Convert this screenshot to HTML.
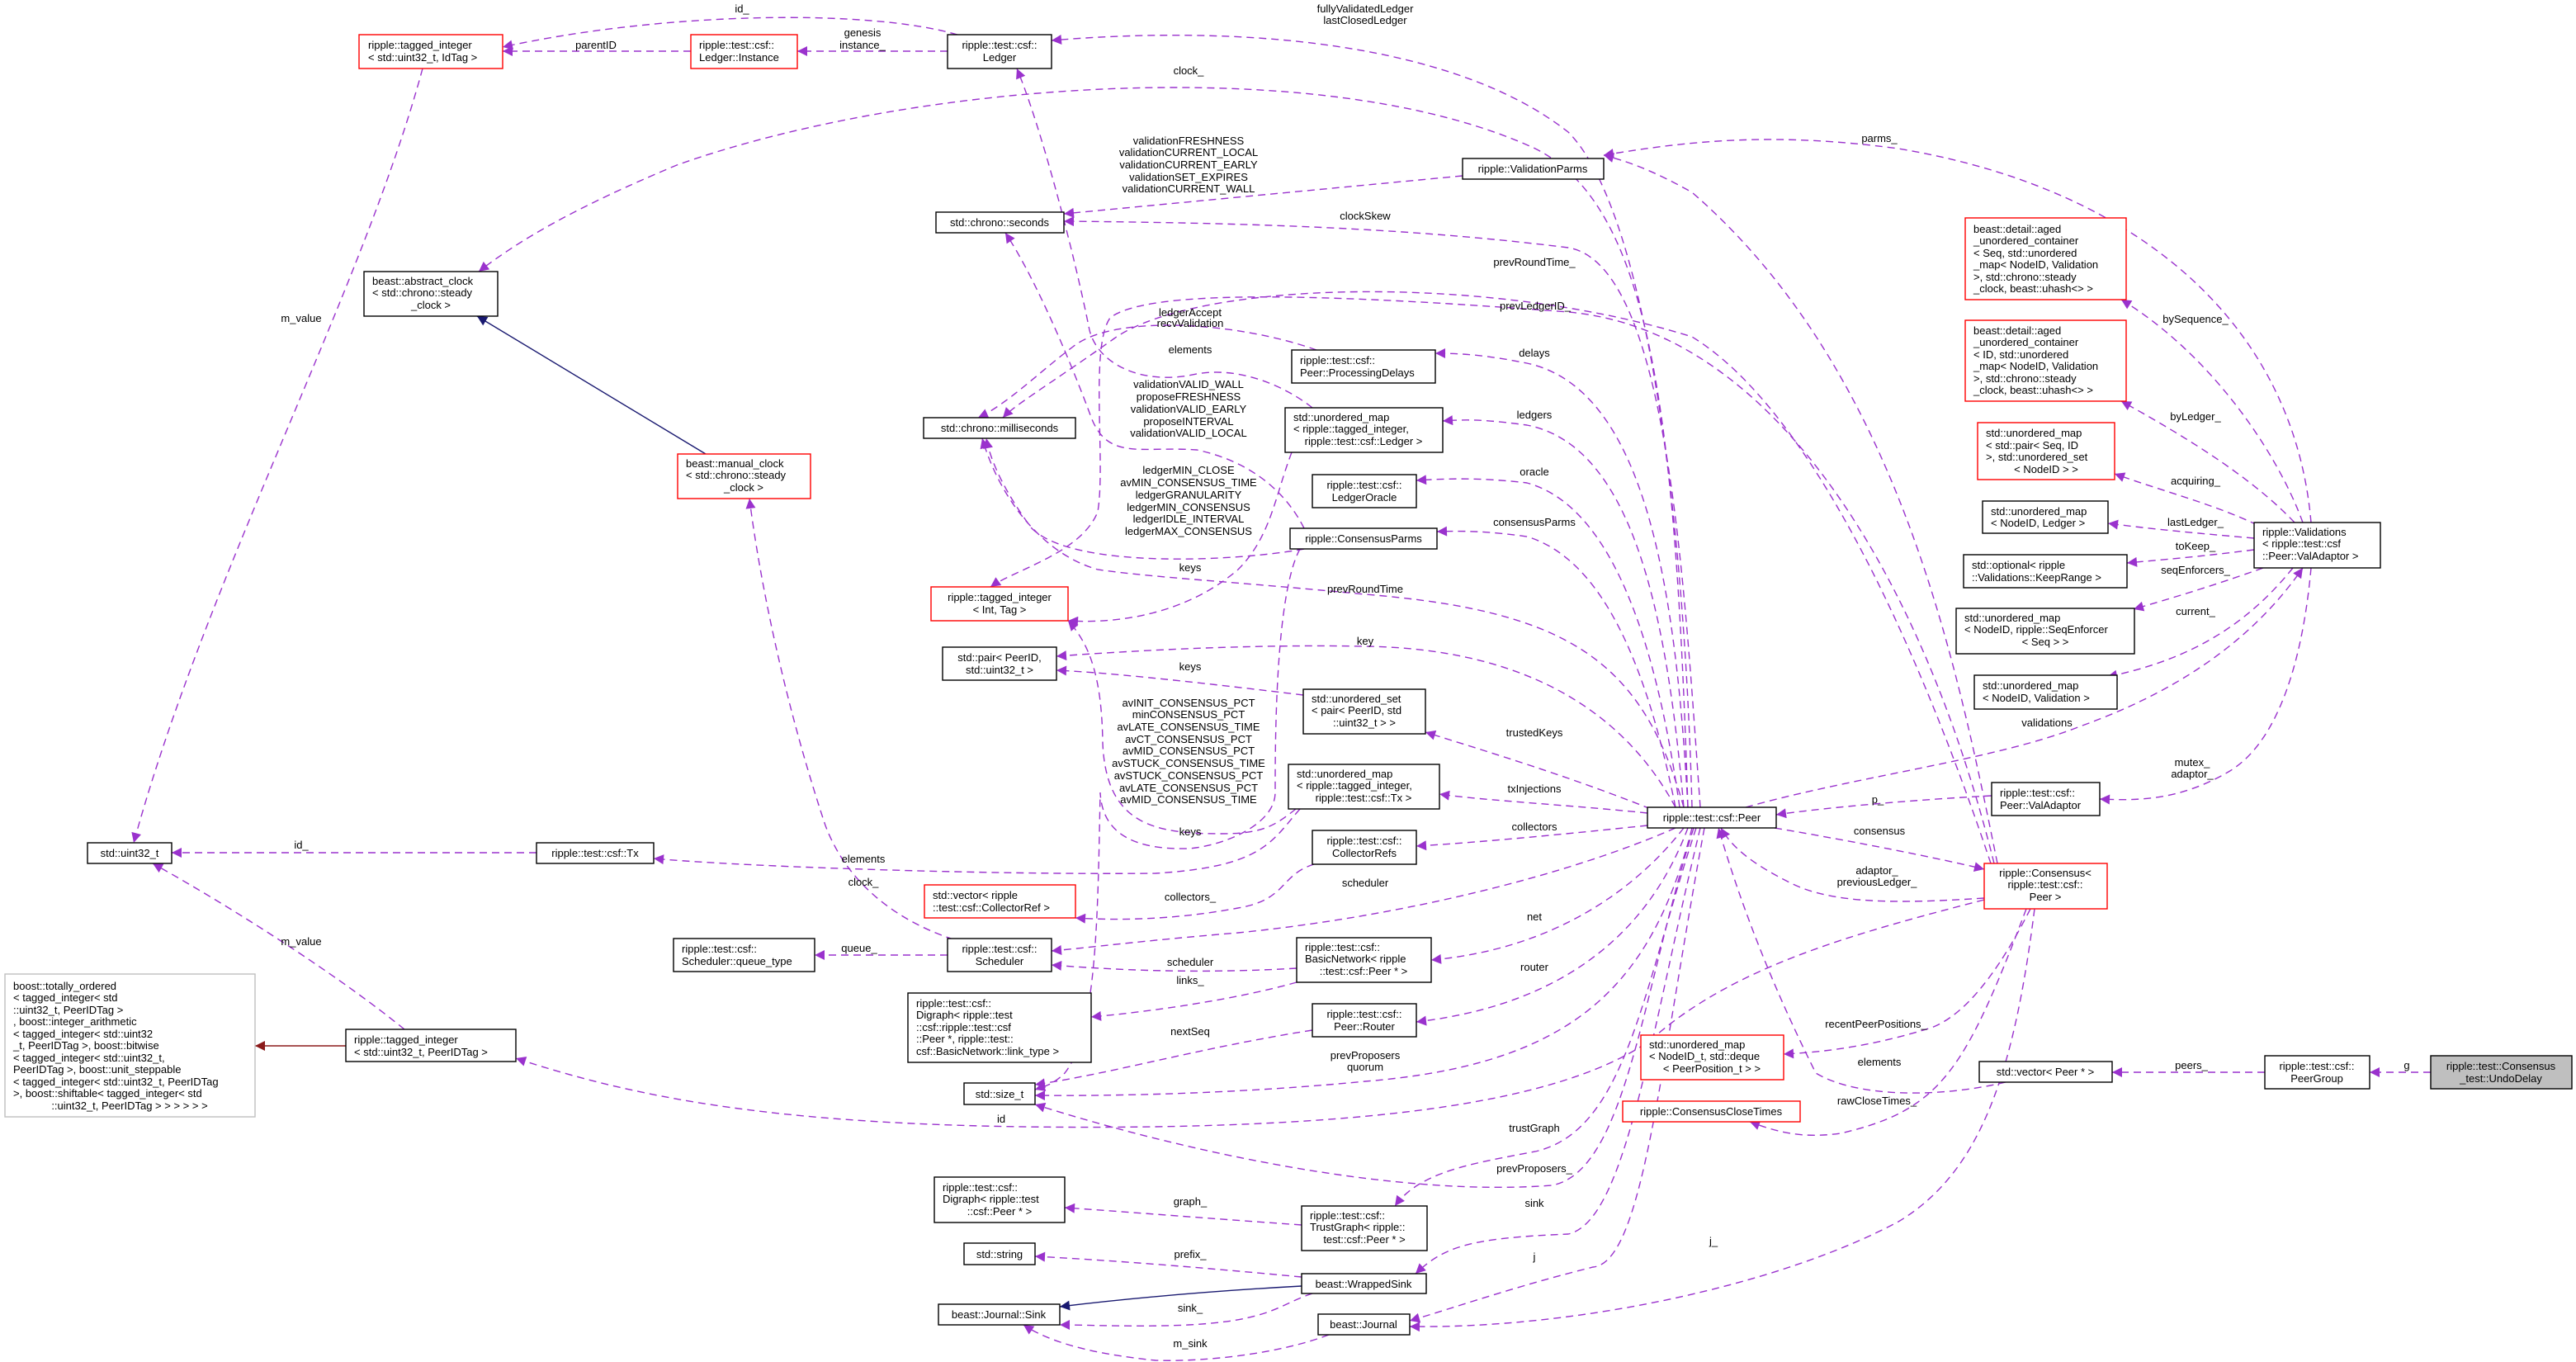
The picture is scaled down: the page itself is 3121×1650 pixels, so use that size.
<!DOCTYPE html>
<html><head><meta charset="utf-8"><style>
html,body{margin:0;padding:0;background:#fff;}
svg{display:block;}
text{font-family:"Liberation Sans",sans-serif;font-size:13px;fill:#000;}
.c{text-anchor:middle;}
.e{fill:none;stroke:#9a32cd;stroke-width:1.4;stroke-dasharray:9,6;marker-end:url(#a);}
.b{fill:#fff;stroke:#000;stroke-width:1.4;}
.r{fill:#fff;stroke:#ff0000;stroke-width:1.4;}
</style></head><body>
<svg width="3121" height="1650" viewBox="0 0 3121 1650" xmlns="http://www.w3.org/2000/svg">
<defs>
<marker id="a" viewBox="0 0 10 10" refX="10" refY="5" markerWidth="15" markerHeight="12" markerUnits="userSpaceOnUse" orient="auto"><path d="M0,0L10,5L0,10z" fill="#9a32cd"/></marker>
<marker id="n" viewBox="0 0 10 10" refX="10" refY="5" markerWidth="15" markerHeight="12" markerUnits="userSpaceOnUse" orient="auto"><path d="M0,0L10,5L0,10z" fill="#191970"/></marker>
<marker id="d" viewBox="0 0 10 10" refX="10" refY="5" markerWidth="15" markerHeight="12" markerUnits="userSpaceOnUse" orient="auto"><path d="M0,0L10,5L0,10z" fill="#8b1a1a"/></marker>
</defs>

<!-- edges -->
<path class="e" d="M1160,42 C1050,10 800,15 609,57"/>
<path class="e" d="M837,62 L609,62"/>
<path class="e" d="M1148,62 L966,62"/>
<path class="e" d="M2050,978 C2040,600 1990,250 1900,160 C1760,50 1500,30 1274,49"/>
<path class="e" d="M2045,978 C2030,500 2000,250 1860,180 C1600,60 1100,100 820,200 C700,250 630,290 580,329"/>
<path class="e" d="M512,83 C440,350 250,700 162,1021"/>
<path class="e" d="M650,1033 L208,1033"/>
<path class="e" d="M490,1247 C420,1190 300,1110 185,1046"/>
<path d="M855,550 L578,383" fill="none" stroke="#191970" stroke-width="1.4" marker-end="url(#n)"/>
<path class="e" d="M1155,1138 C1100,1120 1030,1080 1000,1000 C950,850 920,700 908,604"/>
<path class="e" d="M2800,633 C2780,400 2600,230 2300,180 C2150,160 2050,170 1943,188"/>
<path class="e" d="M2420,1046 C2370,800 2300,450 2050,233 C2000,205 1970,195 1943,188"/>
<path class="e" d="M1772,213 L1289,259"/>
<path class="e" d="M2060,978 C2040,700 2020,320 1900,300 C1700,275 1500,270 1289,268"/>
<path class="e" d="M2412,1046 C2330,800 2200,500 2050,408 C1800,330 1450,340 1350,410 C1280,460 1230,490 1215,506"/>
<path class="e" d="M2416,1046 C2330,700 2150,400 1900,378 C1600,355 1390,350 1345,385 C1320,420 1340,560 1330,620 C1310,670 1230,690 1200,711"/>
<path class="e" d="M1595,424 C1500,390 1350,380 1300,420 C1260,450 1220,490 1185,506"/>
<path class="e" d="M1590,494 C1560,470 1500,440 1440,455 C1380,465 1330,440 1320,400 C1300,300 1260,150 1232,83"/>
<path class="e" d="M1580,640 C1560,600 1520,560 1450,545 C1380,540 1340,560 1320,500 C1290,420 1250,330 1218,282"/>
<path class="e" d="M1580,665 C1500,680 1300,690 1250,640 C1220,600 1200,560 1195,531"/>
<path class="e" d="M2040,978 C1990,800 1900,740 1654,720 C1500,705 1400,700 1330,690 C1260,670 1210,600 1190,531"/>
<path class="e" d="M1565,548 C1545,600 1540,650 1500,690 C1430,750 1340,755 1294,752"/>
<path class="e" d="M2030,978 C1950,830 1800,785 1654,783 C1500,780 1350,790 1280,795"/>
<path class="e" d="M1579,842 C1480,830 1350,815 1280,812"/>
<path class="e" d="M2000,980 C1900,940 1800,910 1727,887"/>
<path class="e" d="M1996,985 C1900,975 1800,970 1744,962"/>
<path class="e" d="M1575,980 C1540,1020 1530,1050 1400,1058 C1200,1060 900,1050 792,1040"/>
<path class="e" d="M1570,980 C1545,1000 1530,1010 1480,1010 C1400,1010 1340,1000 1336,900 C1335,820 1320,780 1294,752"/>
<path class="e" d="M1575,665 C1545,720 1545,900 1545,960 C1545,1000 1480,1025 1440,1028 C1360,1030 1335,1000 1333,960 C1330,1100 1330,1250 1290,1300 C1275,1315 1260,1318 1254,1320"/>
<path class="e" d="M1996,1000 C1900,1010 1800,1020 1716,1025"/>
<path class="e" d="M1592,1047 C1550,1060 1560,1090 1500,1100 C1420,1115 1350,1115 1303,1112"/>
<path class="e" d="M2030,1003 C1900,1060 1700,1110 1500,1130 C1380,1140 1320,1148 1274,1152"/>
<path class="e" d="M1571,1173 C1450,1180 1350,1175 1274,1169"/>
<path class="e" d="M1571,1190 C1500,1210 1400,1225 1322,1232"/>
<path class="e" d="M1148,1157 L987,1157"/>
<path class="e" d="M2040,1003 C1980,1080 1880,1150 1734,1163"/>
<path class="e" d="M2045,1003 C1990,1150 1870,1220 1716,1238"/>
<path class="e" d="M1590,1248 C1450,1270 1350,1300 1254,1314"/>
<path class="e" d="M2050,1003 C2000,1200 1900,1290 1654,1310 C1500,1325 1350,1328 1254,1327"/>
<path class="e" d="M2404,1090 C2250,1130 2100,1170 2000,1260 C1900,1330 1700,1360 1400,1365 C1000,1370 800,1340 625,1282"/>
<path class="e" d="M2052,1003 C1990,1200 1970,1420 1880,1436 C1700,1450 1450,1400 1254,1338"/>
<path class="e" d="M2055,1003 C1990,1200 1970,1370 1860,1395 C1780,1410 1720,1420 1690,1461"/>
<path class="e" d="M1577,1484 C1450,1475 1350,1467 1290,1463"/>
<path class="e" d="M1577,1547 C1450,1535 1350,1527 1254,1522"/>
<path d="M1577,1558 C1450,1565 1350,1575 1284,1583" fill="none" stroke="#191970" stroke-width="1.4" marker-end="url(#n)"/>
<path class="e" d="M1590,1567 C1550,1580 1540,1600 1440,1605 C1380,1608 1320,1605 1284,1605"/>
<path class="e" d="M1610,1617 C1550,1640 1460,1650 1400,1648 C1320,1640 1270,1625 1240,1605"/>
<path class="e" d="M2060,1003 C2000,1250 1970,1480 1900,1495 C1780,1500 1750,1510 1715,1543"/>
<path class="e" d="M2065,1003 C2010,1300 1990,1530 1930,1535 C1830,1560 1760,1585 1708,1600"/>
<path class="e" d="M2465,1101 C2440,1300 2400,1420 2300,1480 C2150,1560 1900,1610 1708,1607"/>
<path class="e" d="M2045,978 C2030,700 1990,470 1850,440 C1800,430 1770,428 1739,428"/>
<path class="e" d="M2040,978 C2020,750 1980,540 1850,515 C1800,508 1775,508 1748,510"/>
<path class="e" d="M2035,978 C2010,800 1960,615 1850,585 C1790,578 1750,580 1716,582"/>
<path class="e" d="M2030,978 C2000,830 1950,680 1850,650 C1800,643 1770,643 1741,644"/>
<path class="e" d="M2790,633 C2760,550 2680,430 2570,363"/>
<path class="e" d="M2780,633 C2730,580 2650,530 2570,486"/>
<path class="e" d="M2735,636 C2680,610 2620,595 2562,574"/>
<path class="e" d="M2731,652 C2650,645 2600,640 2554,634"/>
<path class="e" d="M2731,666 C2660,675 2620,678 2577,682"/>
<path class="e" d="M2742,688 C2680,710 2630,725 2585,738"/>
<path class="e" d="M2778,688 C2720,760 2650,800 2553,820"/>
<path class="e" d="M2115,978 C2250,940 2420,920 2520,880 C2660,830 2740,760 2790,688"/>
<path class="e" d="M2800,688 C2790,800 2760,900 2700,935 C2640,970 2590,970 2544,968"/>
<path class="e" d="M2413,964 C2300,970 2200,980 2152,987"/>
<path class="e" d="M2150,1003 C2250,1020 2350,1040 2404,1053"/>
<path class="e" d="M2404,1088 C2300,1095 2220,1095 2170,1070 C2130,1050 2100,1030 2085,1003"/>
<path class="e" d="M2460,1101 C2420,1180 2380,1230 2340,1245 C2260,1270 2200,1275 2161,1277"/>
<path class="e" d="M2430,1311 C2350,1330 2250,1330 2200,1300 C2150,1200 2110,1100 2082,1003"/>
<path class="e" d="M2455,1101 C2380,1300 2350,1345 2230,1373 C2180,1380 2150,1370 2120,1359"/>
<path class="e" d="M2744,1299 L2559,1299"/>
<path class="e" d="M2945,1299 L2871,1299"/>
<path d="M419,1267 L309,1267" fill="none" stroke="#8b1a1a" stroke-width="1.4" marker-end="url(#d)"/>

<!-- edge labels -->
<g class="c">
<text x="899" y="15" class="c">id_</text>
<text x="722" y="59" class="c">parentID</text>
<text x="1045" y="44" class="c">genesis</text><text x="1045" y="59" class="c">instance_</text>
<text x="1654" y="15" class="c">fullyValidatedLedger</text><text x="1654" y="29" class="c">lastClosedLedger</text>
<text x="1440" y="90" class="c">clock_</text>
<text x="365" y="390" class="c">m_value</text>
<text x="2277" y="172" class="c">parms_</text>
<text x="1440" y="175" class="c">validationFRESHNESS</text>
<text x="1440" y="189" class="c">validationCURRENT_LOCAL</text>
<text x="1440" y="204" class="c">validationCURRENT_EARLY</text>
<text x="1440" y="219" class="c">validationSET_EXPIRES</text>
<text x="1440" y="233" class="c">validationCURRENT_WALL</text>
<text x="1654" y="266" class="c">clockSkew</text>
<text x="1859" y="322" class="c">prevRoundTime_</text>
<text x="1860" y="375" class="c">prevLedgerID_</text>
<text x="1442" y="383" class="c">ledgerAccept</text><text x="1442" y="396" class="c">recvValidation</text>
<text x="1442" y="428" class="c">elements</text>
<text x="1859" y="432" class="c">delays</text>
<text x="1440" y="470" class="c">validationVALID_WALL</text>
<text x="1440" y="485" class="c">proposeFRESHNESS</text>
<text x="1440" y="500" class="c">validationVALID_EARLY</text>
<text x="1440" y="515" class="c">proposeINTERVAL</text>
<text x="1440" y="529" class="c">validationVALID_LOCAL</text>
<text x="1859" y="507" class="c">ledgers</text>
<text x="1859" y="576" class="c">oracle</text>
<text x="1440" y="574" class="c">ledgerMIN_CLOSE</text>
<text x="1440" y="589" class="c">avMIN_CONSENSUS_TIME</text>
<text x="1440" y="604" class="c">ledgerGRANULARITY</text>
<text x="1440" y="619" class="c">ledgerMIN_CONSENSUS</text>
<text x="1440" y="633" class="c">ledgerIDLE_INTERVAL</text>
<text x="1440" y="648" class="c">ledgerMAX_CONSENSUS</text>
<text x="1859" y="637" class="c">consensusParms</text>
<text x="1442" y="692" class="c">keys</text>
<text x="1654" y="718" class="c">prevRoundTime</text>
<text x="1654" y="781" class="c">key</text>
<text x="1442" y="812" class="c">keys</text>
<text x="1440" y="856" class="c">avINIT_CONSENSUS_PCT</text>
<text x="1440" y="870" class="c">minCONSENSUS_PCT</text>
<text x="1440" y="885" class="c">avLATE_CONSENSUS_TIME</text>
<text x="1440" y="900" class="c">avCT_CONSENSUS_PCT</text>
<text x="1440" y="914" class="c">avMID_CONSENSUS_PCT</text>
<text x="1440" y="929" class="c">avSTUCK_CONSENSUS_TIME</text>
<text x="1440" y="944" class="c">avSTUCK_CONSENSUS_PCT</text>
<text x="1440" y="959" class="c">avLATE_CONSENSUS_PCT</text>
<text x="1440" y="973" class="c">avMID_CONSENSUS_TIME</text>
<text x="1859" y="892" class="c">trustedKeys</text>
<text x="1859" y="960" class="c">txInjections</text>
<text x="1442" y="1012" class="c">keys</text>
<text x="1859" y="1006" class="c">collectors</text>
<text x="365" y="1028" class="c">id_</text>
<text x="1046" y="1045" class="c">elements</text>
<text x="1046" y="1073" class="c">clock_</text>
<text x="1654" y="1074" class="c">scheduler</text>
<text x="1442" y="1091" class="c">collectors_</text>
<text x="1859" y="1115" class="c">net</text>
<text x="1041" y="1153" class="c">queue_</text>
<text x="365" y="1145" class="c">m_value</text>
<text x="1442" y="1170" class="c">scheduler</text>
<text x="1859" y="1176" class="c">router</text>
<text x="1442" y="1192" class="c">links_</text>
<text x="1442" y="1254" class="c">nextSeq</text>
<text x="1654" y="1283" class="c">prevProposers</text><text x="1654" y="1297" class="c">quorum</text>
<text x="1213" y="1360" class="c">id</text>
<text x="1859" y="1371" class="c">trustGraph</text>
<text x="1859" y="1420" class="c">prevProposers_</text>
<text x="1442" y="1460" class="c">graph_</text>
<text x="1859" y="1462" class="c">sink</text>
<text x="1442" y="1524" class="c">prefix_</text>
<text x="1859" y="1527" class="c">j</text>
<text x="2076" y="1508" class="c">j_</text>
<text x="1442" y="1589" class="c">sink_</text>
<text x="1442" y="1632" class="c">m_sink</text>
<text x="2660" y="391" class="c">bySequence_</text>
<text x="2660" y="509" class="c">byLedger_</text>
<text x="2660" y="587" class="c">acquiring_</text>
<text x="2660" y="637" class="c">lastLedger_</text>
<text x="2660" y="666" class="c">toKeep_</text>
<text x="2660" y="695" class="c">seqEnforcers_</text>
<text x="2660" y="745" class="c">current_</text>
<text x="2480" y="880" class="c">validations</text>
<text x="2656" y="928" class="c">mutex_</text><text x="2656" y="942" class="c">adaptor_</text>
<text x="2275" y="973" class="c">p_</text>
<text x="2277" y="1011" class="c">consensus</text>
<text x="2274" y="1059" class="c">adaptor_</text><text x="2274" y="1073" class="c">previousLedger_</text>
<text x="2273" y="1245" class="c">recentPeerPositions_</text>
<text x="2277" y="1291" class="c">elements</text>
<text x="2274" y="1338" class="c">rawCloseTimes_</text>
<text x="2655" y="1295" class="c">peers_</text>
<text x="2916" y="1295" class="c">g</text>
</g>

<!-- nodes -->
<rect class="r" x="435" y="42" width="174" height="41"/><text x="446" y="59">ripple::tagged_integer</text><text x="446" y="74">&lt; std::uint32_t, IdTag &gt;</text>
<rect class="r" x="837" y="42" width="129" height="41"/><text x="847" y="59">ripple::test::csf::</text><text x="847" y="74">Ledger::Instance</text>
<rect class="b" x="1148" y="42" width="126" height="41"/><text class="c" x="1211" y="59">ripple::test::csf::</text><text class="c" x="1211" y="74">Ledger</text>
<rect class="b" x="441" y="329" width="162" height="54"/><text x="451" y="345">beast::abstract_clock</text><text x="451" y="359">&lt; std::chrono::steady</text><text class="c" x="522" y="374">_clock &gt;</text>
<rect class="r" x="821" y="550" width="161" height="54"/><text x="831" y="566">beast::manual_clock</text><text x="831" y="580">&lt; std::chrono::steady</text><text class="c" x="901" y="595">_clock &gt;</text>
<rect class="b" x="1772" y="192" width="171" height="25"/><text class="c" x="1857" y="209">ripple::ValidationParms</text>
<rect class="b" x="1134" y="257" width="155" height="25"/><text class="c" x="1211" y="274">std::chrono::seconds</text>
<rect class="b" x="1565" y="424" width="174" height="40"/><text x="1575" y="441">ripple::test::csf::</text><text x="1575" y="456">Peer::ProcessingDelays</text>
<rect class="b" x="1119" y="506" width="184" height="25"/><text class="c" x="1211" y="523">std::chrono::milliseconds</text>
<rect class="b" x="1557" y="494" width="191" height="54"/><text x="1567" y="510">std::unordered_map</text><text x="1567" y="524">&lt; ripple::tagged_integer,</text><text class="c" x="1652" y="539">ripple::test::csf::Ledger &gt;</text>
<rect class="b" x="1590" y="575" width="126" height="40"/><text class="c" x="1653" y="592">ripple::test::csf::</text><text class="c" x="1653" y="607">LedgerOracle</text>
<rect class="b" x="1563" y="640" width="178" height="25"/><text class="c" x="1652" y="657">ripple::ConsensusParms</text>
<rect class="r" x="1128" y="711" width="166" height="41"/><text class="c" x="1211" y="728">ripple::tagged_integer</text><text class="c" x="1211" y="743">&lt; Int, Tag &gt;</text>
<rect class="b" x="1142" y="784" width="138" height="40"/><text class="c" x="1211" y="801">std::pair&lt; PeerID,</text><text class="c" x="1211" y="816">std::uint32_t &gt;</text>
<rect class="b" x="1579" y="835" width="148" height="54"/><text x="1589" y="851">std::unordered_set</text><text x="1589" y="865">&lt; pair&lt; PeerID, std</text><text class="c" x="1653" y="880">::uint32_t &gt; &gt;</text>
<rect class="b" x="1561" y="926" width="183" height="54"/><text x="1571" y="942">std::unordered_map</text><text x="1571" y="956">&lt; ripple::tagged_integer,</text><text class="c" x="1652" y="971">ripple::test::csf::Tx &gt;</text>
<rect class="b" x="1996" y="978" width="156" height="25"/><text class="c" x="2074" y="995">ripple::test::csf::Peer</text>
<rect class="b" x="1590" y="1006" width="126" height="41"/><text class="c" x="1653" y="1023">ripple::test::csf::</text><text class="c" x="1653" y="1038">CollectorRefs</text>
<rect class="r" x="1120" y="1072" width="183" height="40"/><text x="1130" y="1089">std::vector&lt; ripple</text><text x="1130" y="1104">::test::csf::CollectorRef &gt;</text>
<rect class="b" x="1148" y="1137" width="126" height="40"/><text class="c" x="1211" y="1154">ripple::test::csf::</text><text class="c" x="1211" y="1169">Scheduler</text>
<rect class="b" x="1571" y="1136" width="163" height="54"/><text x="1581" y="1152">ripple::test::csf::</text><text x="1581" y="1166">BasicNetwork&lt; ripple</text><text class="c" x="1652" y="1181">::test::csf::Peer * &gt;</text>
<rect class="b" x="1100" y="1203" width="222" height="84"/><text x="1110" y="1220">ripple::test::csf::</text><text x="1110" y="1234">Digraph&lt; ripple::test</text><text x="1110" y="1249">::csf::ripple::test::csf</text><text x="1110" y="1263">::Peer *, ripple::test::</text><text x="1110" y="1278">csf::BasicNetwork::link_type &gt;</text>
<rect class="b" x="1590" y="1216" width="126" height="40"/><text class="c" x="1653" y="1233">ripple::test::csf::</text><text class="c" x="1653" y="1248">Peer::Router</text>
<rect class="b" x="1168" y="1312" width="86" height="26"/><text class="c" x="1211" y="1330">std::size_t</text>
<rect class="b" x="1132" y="1426" width="158" height="55"/><text x="1142" y="1443">ripple::test::csf::</text><text x="1142" y="1457">Digraph&lt; ripple::test</text><text class="c" x="1211" y="1472">::csf::Peer * &gt;</text>
<rect class="b" x="1577" y="1461" width="152" height="54"/><text x="1587" y="1477">ripple::test::csf::</text><text x="1587" y="1491">TrustGraph&lt; ripple::</text><text class="c" x="1653" y="1506">test::csf::Peer * &gt;</text>
<rect class="b" x="1168" y="1506" width="86" height="26"/><text class="c" x="1211" y="1524">std::string</text>
<rect class="b" x="1577" y="1543" width="151" height="24"/><text class="c" x="1652" y="1560">beast::WrappedSink</text>
<rect class="b" x="1137" y="1580" width="147" height="25"/><text class="c" x="1210" y="1597">beast::Journal::Sink</text>
<rect class="b" x="1597" y="1592" width="111" height="25"/><text class="c" x="1652" y="1609">beast::Journal</text>
<rect class="r" x="2381" y="264" width="195" height="99"/><text x="2391" y="282">beast::detail::aged</text><text x="2391" y="296">_unordered_container</text><text x="2391" y="311">&lt; Seq, std::unordered</text><text x="2391" y="325">_map&lt; NodeID, Validation</text><text x="2391" y="340"> &gt;, std::chrono::steady</text><text x="2391" y="354">_clock, beast::uhash&lt;&gt; &gt;</text>
<rect class="r" x="2381" y="388" width="195" height="98"/><text x="2391" y="405">beast::detail::aged</text><text x="2391" y="419">_unordered_container</text><text x="2391" y="434">&lt; ID, std::unordered</text><text x="2391" y="448">_map&lt; NodeID, Validation</text><text x="2391" y="463"> &gt;, std::chrono::steady</text><text x="2391" y="477">_clock, beast::uhash&lt;&gt; &gt;</text>
<rect class="r" x="2396" y="512" width="166" height="69"/><text x="2406" y="529">std::unordered_map</text><text x="2406" y="544">&lt; std::pair&lt; Seq, ID</text><text x="2406" y="558"> &gt;, std::unordered_set</text><text class="c" x="2479" y="573">&lt; NodeID &gt; &gt;</text>
<rect class="b" x="2402" y="607" width="152" height="39"/><text x="2412" y="624">std::unordered_map</text><text x="2412" y="638">&lt; NodeID, Ledger &gt;</text>
<rect class="b" x="2379" y="672" width="198" height="40"/><text x="2389" y="689">std::optional&lt; ripple</text><text x="2389" y="704">::Validations::KeepRange &gt;</text>
<rect class="b" x="2370" y="737" width="216" height="55"/><text x="2380" y="753">std::unordered_map</text><text x="2380" y="767">&lt; NodeID, ripple::SeqEnforcer</text><text class="c" x="2478" y="782">&lt; Seq &gt; &gt;</text>
<rect class="b" x="2392" y="818" width="173" height="41"/><text x="2402" y="835">std::unordered_map</text><text x="2402" y="850">&lt; NodeID, Validation &gt;</text>
<rect class="b" x="2731" y="633" width="153" height="55"/><text x="2741" y="649">ripple::Validations</text><text x="2741" y="663">&lt; ripple::test::csf</text><text x="2741" y="678">::Peer::ValAdaptor &gt;</text>
<rect class="b" x="2413" y="948" width="131" height="40"/><text x="2423" y="965">ripple::test::csf::</text><text x="2423" y="980">Peer::ValAdaptor</text>
<rect class="r" x="2404" y="1046" width="149" height="55"/><text class="c" x="2478" y="1062">ripple::Consensus&lt;</text><text class="c" x="2478" y="1076">ripple::test::csf::</text><text class="c" x="2478" y="1091">Peer &gt;</text>
<rect class="r" x="1988" y="1254" width="173" height="54"/><text x="1998" y="1270">std::unordered_map</text><text x="1998" y="1284">&lt; NodeID_t, std::deque</text><text class="c" x="2074" y="1299">&lt; PeerPosition_t &gt; &gt;</text>
<rect class="r" x="1966" y="1334" width="215" height="25"/><text class="c" x="2073" y="1351">ripple::ConsensusCloseTimes</text>
<rect class="b" x="2398" y="1286" width="161" height="25"/><text class="c" x="2478" y="1303">std::vector&lt; Peer * &gt;</text>
<rect class="b" x="2744" y="1279" width="127" height="40"/><text class="c" x="2807" y="1296">ripple::test::csf::</text><text class="c" x="2807" y="1311">PeerGroup</text>
<rect x="2945" y="1279" width="171" height="40" fill="#bfbfbf" stroke="#000" stroke-width="1.4"/><text class="c" x="3030" y="1296">ripple::test::Consensus</text><text class="c" x="3030" y="1311">_test::UndoDelay</text>
<rect class="b" x="106" y="1021" width="102" height="25"/><text class="c" x="157" y="1038">std::uint32_t</text>
<rect class="b" x="650" y="1021" width="142" height="25"/><text class="c" x="721" y="1038">ripple::test::csf::Tx</text>
<rect class="b" x="816" y="1137" width="171" height="40"/><text x="826" y="1154">ripple::test::csf::</text><text x="826" y="1169">Scheduler::queue_type</text>
<rect x="6" y="1180" width="303" height="173" fill="#fff" stroke="#bfbfbf" stroke-width="1.4"/>
<text x="16" y="1199">boost::totally_ordered</text><text x="16" y="1213">&lt; tagged_integer&lt; std</text><text x="16" y="1228">::uint32_t, PeerIDTag &gt;</text><text x="16" y="1242">, boost::integer_arithmetic</text><text x="16" y="1257">&lt; tagged_integer&lt; std::uint32</text><text x="16" y="1271">_t, PeerIDTag &gt;, boost::bitwise</text><text x="16" y="1286">&lt; tagged_integer&lt; std::uint32_t,</text><text x="16" y="1300"> PeerIDTag &gt;, boost::unit_steppable</text><text x="16" y="1315">&lt; tagged_integer&lt; std::uint32_t, PeerIDTag</text><text x="16" y="1329"> &gt;, boost::shiftable&lt; tagged_integer&lt; std</text><text class="c" x="157" y="1344">::uint32_t, PeerIDTag &gt; &gt; &gt; &gt; &gt; &gt;</text>
<rect class="b" x="419" y="1247" width="206" height="39"/><text x="429" y="1264">ripple::tagged_integer</text><text x="429" y="1279">&lt; std::uint32_t, PeerIDTag &gt;</text>
</svg>
</body></html>
